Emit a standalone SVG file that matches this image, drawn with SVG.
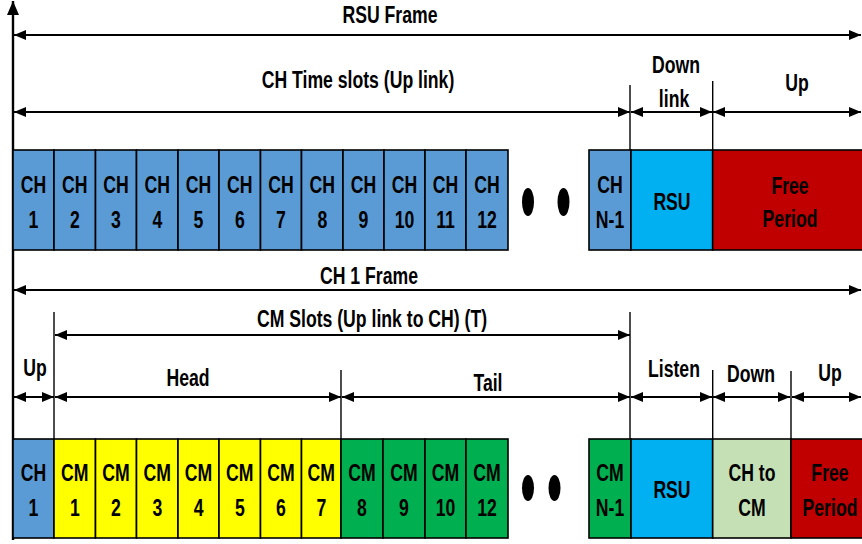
<svg xmlns="http://www.w3.org/2000/svg" width="862" height="544" viewBox="0 0 862 544">
<style>
text{font-family:"Liberation Sans",Arial,sans-serif;font-weight:bold;font-size:21.5px;fill:#000;text-anchor:middle;transform-box:fill-box;transform-origin:center;transform:scale(0.82,1.08)}
.box{stroke:#000;stroke-width:1.6}
.ch{fill:#5B9BD5}.rsu{fill:#00B0F0}.free{fill:#C00000}.yel{fill:#FFFF00}.grn{fill:#00B050}.lg{fill:#C5E0B4}
.arr{stroke:#000;stroke-width:2;fill:none;marker-start:url(#ah);marker-end:url(#ah)}
.thin{stroke:#000;stroke-width:1.4;fill:none}
.dot{fill:#000}
</style>
<defs>
<marker id="ah" markerUnits="userSpaceOnUse" markerWidth="12" markerHeight="10" refX="12" refY="5" orient="auto-start-reverse"><path d="M0,0 L12,5 L0,10 z" fill="#000"/></marker>
<marker id="up" markerUnits="userSpaceOnUse" markerWidth="14" markerHeight="12" refX="14" refY="6" orient="auto"><path d="M0,0 L14,6 L0,12 z" fill="#000"/></marker>
</defs>
<g id="connectors">
<line x1="13" y1="540" x2="13" y2="1" stroke="#000" stroke-width="2.4" marker-end="url(#up)"/>
<line class="arr" x1="14" y1="35" x2="861" y2="35"/>
<line class="arr" x1="14" y1="112" x2="630" y2="112"/>
<line class="arr" x1="631" y1="112" x2="712" y2="112" stroke="#555"/>
<line class="arr" x1="713" y1="112" x2="861" y2="112"/>
<line class="thin" x1="630" y1="85" x2="630" y2="150"/>
<line class="thin" x1="712.7" y1="81" x2="712.7" y2="150"/>
<line class="arr" x1="14" y1="290" x2="861" y2="290" stroke-width="1.6"/>
<line class="arr" x1="55" y1="335" x2="630" y2="335"/>
<line class="arr" x1="14" y1="397" x2="54" y2="397"/>
<line class="arr" x1="55" y1="397" x2="341" y2="397"/>
<line class="arr" x1="342" y1="397" x2="630" y2="397"/>
<line class="arr" x1="631" y1="397" x2="712" y2="397"/>
<line class="arr" x1="713" y1="397" x2="790" y2="397"/>
<line class="arr" x1="792" y1="397" x2="861" y2="397"/>
<line class="thin" x1="54" y1="312" x2="54" y2="439"/>
<line class="thin" x1="341" y1="370" x2="341" y2="439"/>
<line class="thin" x1="630" y1="312" x2="630" y2="439"/>
<line class="thin" x1="712.7" y1="370" x2="712.7" y2="439"/>
<line class="thin" x1="791" y1="371" x2="791" y2="439"/>
</g>
<g id="labels">
<text x="390" y="22">RSU Frame</text>
<text x="358" y="87">CH Time slots (Up link)</text>
<text x="676" y="72">Down</text>
<text x="674" y="106">link</text>
<text x="797" y="90">Up</text>
<text x="369" y="283">CH 1 Frame</text>
<text x="372" y="326">CM Slots (Up link to CH) (T)</text>
<text x="35" y="375">Up</text>
<text x="188" y="385">Head</text>
<text x="488" y="390">Tail</text>
<text x="674" y="376">Listen</text>
<text x="751" y="381">Down</text>
<text x="830" y="380">Up</text>
</g>
<g id="row1">
<g id="ch1"><rect class="box ch" x="13" y="150" width="41" height="100"/><text x="33.5" y="192">CH</text><text x="33.5" y="227">1</text></g>
<g id="ch2"><rect class="box ch" x="54" y="150" width="41.5" height="100"/><text x="74.8" y="192">CH</text><text x="74.8" y="227">2</text></g>
<g id="ch3"><rect class="box ch" x="95.5" y="150" width="41" height="100"/><text x="116" y="192">CH</text><text x="116" y="227">3</text></g>
<g id="ch4"><rect class="box ch" x="136.5" y="150" width="41.5" height="100"/><text x="157.3" y="192">CH</text><text x="157.3" y="227">4</text></g>
<g id="ch5"><rect class="box ch" x="178" y="150" width="41" height="100"/><text x="198.5" y="192">CH</text><text x="198.5" y="227">5</text></g>
<g id="ch6"><rect class="box ch" x="219" y="150" width="41.5" height="100"/><text x="239.8" y="192">CH</text><text x="239.8" y="227">6</text></g>
<g id="ch7"><rect class="box ch" x="260.5" y="150" width="41" height="100"/><text x="281" y="192">CH</text><text x="281" y="227">7</text></g>
<g id="ch8"><rect class="box ch" x="301.5" y="150" width="41.5" height="100"/><text x="322.3" y="192">CH</text><text x="322.3" y="227">8</text></g>
<g id="ch9"><rect class="box ch" x="343" y="150" width="41" height="100"/><text x="363.5" y="192">CH</text><text x="363.5" y="227">9</text></g>
<g id="ch10"><rect class="box ch" x="384" y="150" width="41" height="100"/><text x="404.5" y="192">CH</text><text x="404.5" y="227">10</text></g>
<g id="ch11"><rect class="box ch" x="425" y="150" width="41" height="100"/><text x="445.5" y="192">CH</text><text x="445.5" y="227">11</text></g>
<g id="ch12"><rect class="box ch" x="466" y="150" width="42" height="100"/><text x="487" y="192">CH</text><text x="487" y="227">12</text></g>
<g id="dots1"><ellipse class="dot" cx="528" cy="202" rx="6" ry="14"/><ellipse class="dot" cx="563.5" cy="202" rx="6" ry="14"/></g>
<g id="chn1"><rect class="box ch" x="589" y="150" width="42" height="100"/><text x="610" y="192">CH</text><text x="610" y="227">N-1</text></g>
<g id="rsu1"><rect class="box rsu" x="631" y="150" width="81.7" height="100"/><text x="672" y="209">RSU</text></g>
<g id="free1"><rect class="box free" x="712.7" y="150" width="152" height="100"/><text x="790" y="193">Free</text><text x="790" y="226">Period</text></g>
</g>
<g id="row2">
<g id="b-ch1"><rect class="box ch" x="13" y="439" width="41" height="99"/><text x="33.5" y="480">CH</text><text x="33.5" y="515">1</text></g>
<g id="cm1"><rect class="box yel" x="54" y="439" width="41.5" height="99"/><text x="74.8" y="480">CM</text><text x="74.8" y="515">1</text></g>
<g id="cm2"><rect class="box yel" x="95.5" y="439" width="41" height="99"/><text x="116" y="480">CM</text><text x="116" y="515">2</text></g>
<g id="cm3"><rect class="box yel" x="136.5" y="439" width="41.5" height="99"/><text x="157.3" y="480">CM</text><text x="157.3" y="515">3</text></g>
<g id="cm4"><rect class="box yel" x="178" y="439" width="41" height="99"/><text x="198.5" y="480">CM</text><text x="198.5" y="515">4</text></g>
<g id="cm5"><rect class="box yel" x="219" y="439" width="41.5" height="99"/><text x="239.8" y="480">CM</text><text x="239.8" y="515">5</text></g>
<g id="cm6"><rect class="box yel" x="260.5" y="439" width="41" height="99"/><text x="281" y="480">CM</text><text x="281" y="515">6</text></g>
<g id="cm7"><rect class="box yel" x="301.5" y="439" width="39.5" height="99"/><text x="321.3" y="480">CM</text><text x="321.3" y="515">7</text></g>
<g id="cm8"><rect class="box grn" x="341" y="439" width="42" height="99"/><text x="362" y="480">CM</text><text x="362" y="515">8</text></g>
<g id="cm9"><rect class="box grn" x="383" y="439" width="42" height="99"/><text x="404" y="480">CM</text><text x="404" y="515">9</text></g>
<g id="cm10"><rect class="box grn" x="425" y="439" width="41" height="99"/><text x="445.5" y="480">CM</text><text x="445.5" y="515">10</text></g>
<g id="cm12"><rect class="box grn" x="466" y="439" width="42" height="99"/><text x="487" y="480">CM</text><text x="487" y="515">12</text></g>
<g id="dots2"><ellipse class="dot" cx="528" cy="488" rx="6" ry="13"/><ellipse class="dot" cx="554.5" cy="488" rx="6" ry="13"/></g>
<g id="cmn1"><rect class="box grn" x="589" y="439" width="42" height="99"/><text x="610" y="480">CM</text><text x="610" y="515">N-1</text></g>
<g id="rsu2"><rect class="box rsu" x="631" y="439" width="81.7" height="99"/><text x="672" y="497">RSU</text></g>
<g id="chtocm"><rect class="box lg" x="712.7" y="439" width="78.3" height="99"/><text x="752" y="480">CH to</text><text x="752" y="515">CM</text></g>
<g id="free2"><rect class="box free" x="791" y="439" width="75" height="99"/><text x="830" y="480">Free</text><text x="830" y="515">Period</text></g>
</g>
</svg>
